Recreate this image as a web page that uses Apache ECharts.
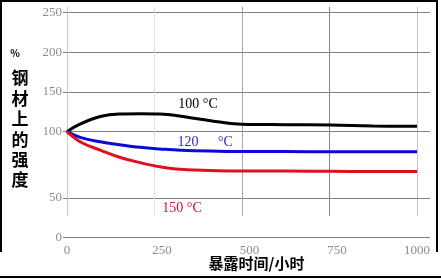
<!DOCTYPE html>
<html>
<head>
<meta charset="utf-8">
<script src="https://cdn.jsdelivr.net/npm/echarts@6/dist/echarts.min.js"></script>
<style>
html,body{margin:0;padding:0;background:#fff;}
#c{width:441px;height:279px;}
</style>
</head>
<body>
<div id="c"></div>
<script>
// ---- data ----
const hours = [0, 40, 95, 150, 210, 265, 325, 430, 500, 625, 750, 875, 1000];
const temp100 = [100, 110, 119, 122.2, 122.6, 122.2, 119.5, 112.6, 109.4, 108.8, 108.4, 107.2, 106.8];
const temp120 = [100, 95.5, 92.4, 90.2, 88.2, 87.0, 86.0, 85.3, 85.1, 85.0, 84.9, 84.9, 84.9];
const temp150 = [100, 92, 86.1, 80.7, 76.6, 73.6, 71.6, 70.5, 70.3, 70.3, 70.1, 69.9, 70.0];
const xTicks = [0, 250, 500, 750, 1000];
const yTicksUpper = [100, 150, 200, 250];
const yTicksMiddle = [50, 100];
const yTicksLower = [0, 50];
const seriesNames = ['100 °C', '120', '°C', '150 °C'];
const xTitle = '暴露时间/小时';
const yTitleChars = ['钢', '材', '上', '的', '强', '度'];

// ---- chart ----
const chart = echarts.init(document.getElementById('c'), null, {renderer: 'canvas'});
const GRID_COLOR = '#808080';
const LABEL_COLOR = '#8c8c8c';
const SERIF = '"Liberation Serif", "Times New Roman", serif';
const CJK = '"Noto Sans CJK SC", sans-serif';
const L = 67, R = 24;

const pair = arr => hours.map((h, i) => [h, arr[i]]);

function leftY(grid, ticks, hideMax) {
  return {
    type: 'value', gridIndex: grid, position: 'left',
    min: ticks[0], max: ticks[ticks.length - 1], interval: ticks[1] - ticks[0],
    axisLine: {show: false},
    axisTick: {show: true, length: 4, lineStyle: {color: GRID_COLOR, width: 1}},
    axisLabel: {show: true, margin: 5, color: LABEL_COLOR, fontFamily: SERIF, fontSize: 13,
      showMaxLabel: !hideMax, showMinLabel: true},
    splitLine: {show: true, lineStyle: {color: GRID_COLOR, width: 1}}
  };
}
function rightY(grid, ticks) {
  return {
    type: 'value', gridIndex: grid, position: 'right',
    min: ticks[0], max: ticks[ticks.length - 1], interval: ticks[1] - ticks[0],
    axisLine: {show: false},
    axisTick: {show: true, length: 13, lineStyle: {color: GRID_COLOR, width: 1}},
    axisLabel: {show: false},
    splitLine: {show: false}
  };
}
const xBase = {type: 'value', min: xTicks[0], max: xTicks[xTicks.length - 1], interval: xTicks[1] - xTicks[0]};

const option = {
  animation: false,
  backgroundColor: '#fff',
  grid: [
    {left: L, right: R, top: 12.3, height: 119.4},
    {left: L, right: R, top: 131.7, height: 66.3},
    {left: L, right: R, top: 198, height: 39.5},
    {left: L, right: R, top: 7, height: 209}
  ],
  xAxis: [
    Object.assign({}, xBase, {gridIndex: 0, show: false}),
    Object.assign({}, xBase, {gridIndex: 1, show: false}),
    Object.assign({}, xBase, {
      gridIndex: 2, position: 'bottom',
      axisLine: {show: true, lineStyle: {color: GRID_COLOR, width: 1}},
      axisTick: {show: false},
      splitLine: {show: false},
      axisLabel: {
        show: true, margin: 7, color: LABEL_COLOR, fontFamily: SERIF, fontSize: 13,
        formatter: v => (v === xTicks[0] || v === xTicks[xTicks.length - 1]) ? String(v) : '{o|' + v + '}',
        rich: {o: {padding: [0, 0, 0, 15], color: LABEL_COLOR, fontFamily: SERIF, fontSize: 13}}
      }
    }),
    Object.assign({}, xBase, {
      gridIndex: 3,
      axisLine: {show: false}, axisTick: {show: false}, axisLabel: {show: false},
      splitLine: {show: true, lineStyle: {width: 1, color: ['#c8c8c8', '#e2e2e2', '#a8a8a8', '#888888', '#c4c4c4']}}
    })
  ],
  yAxis: [
    leftY(0, yTicksUpper, false),
    rightY(0, yTicksUpper),
    leftY(1, yTicksMiddle, true),
    rightY(1, yTicksMiddle),
    leftY(2, yTicksLower, true),
    rightY(2, yTicksLower),
    {type: 'value', gridIndex: 3, min: 0, max: 1, show: false}
  ],
  series: [
    {type: 'line', name: seriesNames[0], xAxisIndex: 0, yAxisIndex: 0, data: pair(temp100),
      smooth: 0.4, showSymbol: false, clip: false, lineStyle: {color: '#000000', width: 3}, z: 5},
    {type: 'line', name: seriesNames[1], xAxisIndex: 1, yAxisIndex: 2, data: pair(temp120),
      smooth: 0.4, showSymbol: false, clip: false, lineStyle: {color: '#0a0ad8', width: 3}, z: 5},
    {type: 'line', name: seriesNames[3], xAxisIndex: 1, yAxisIndex: 2, data: pair(temp150),
      smooth: 0.4, showSymbol: false, clip: false, lineStyle: {color: '#e0101e', width: 3}, z: 5}
  ],
  graphic: [
    {type: 'polyline', shape: {points: [[1, 252], [1, 1], [437, 1], [437, 252]]},
      style: {stroke: '#000', lineWidth: 2, fill: null}, z: 10},
    {type: 'line', shape: {x1: 0, y1: 277, x2: 441, y2: 277}, style: {stroke: '#000', lineWidth: 2}, z: 10},
    {type: 'text', x: 15, y: 53, style: {text: '%', font: 'bold 10px ' + CJK, fill: '#000', align: 'center', verticalAlign: 'middle'}},
    {type: 'text', x: 20, y: 67.8, style: {text: yTitleChars.join('\n'), font: 'bold 17px ' + CJK, lineHeight: 20.4,
      fill: '#000', align: 'center', verticalAlign: 'top'}},
    {type: 'text', x: 256.5, y: 263.5, style: {text: xTitle, font: 'bold 15px ' + CJK, fill: '#000', align: 'center', verticalAlign: 'middle'}},
    {type: 'text', x: 198, y: 104, style: {text: seriesNames[0], font: '14px ' + SERIF, fill: '#000', align: 'center', verticalAlign: 'middle'}},
    {type: 'text', x: 177.5, y: 142.7, style: {text: seriesNames[1], font: '14px ' + SERIF, fill: '#2a2ac0', align: 'left', verticalAlign: 'middle'}},
    {type: 'text', x: 218, y: 142.7, style: {text: seriesNames[2], font: '14px ' + SERIF, fill: '#2a2ac0', align: 'left', verticalAlign: 'middle'}},
    {type: 'text', x: 182, y: 208.3, style: {text: seriesNames[3], font: '14px ' + SERIF, fill: '#d0102a', align: 'center', verticalAlign: 'middle'}}
  ]
};
chart.setOption(option);
</script>
</body>
</html>
